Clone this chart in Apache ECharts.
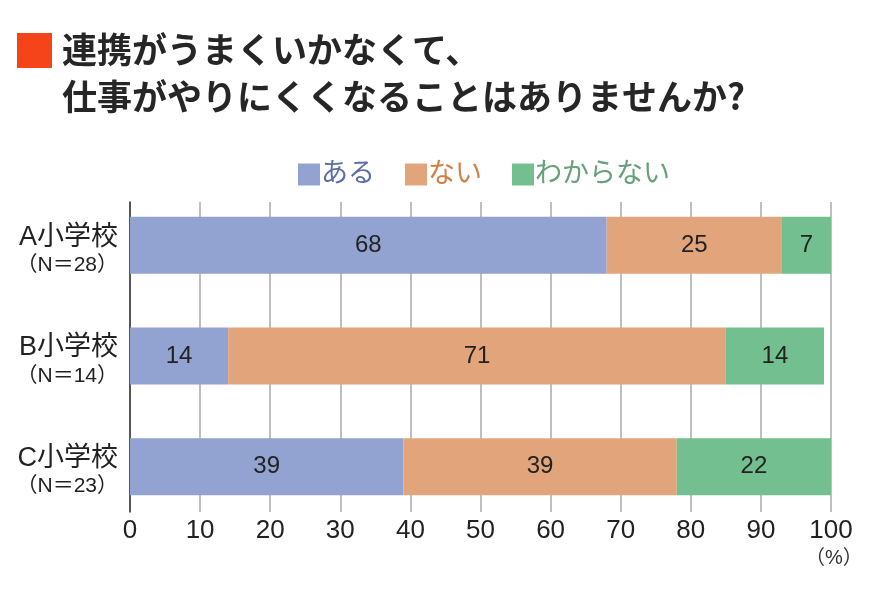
<!DOCTYPE html>
<html><head><meta charset="utf-8">
<script src="https://cdn.jsdelivr.net/npm/echarts@6/dist/echarts.min.js"></script>
<style>html,body{margin:0;padding:0;background:#fff}#c{width:870px;height:595px}</style>
</head><body><div id="c"></div>
<script>
const categories = ['A小学校', 'B小学校', 'C小学校'];
const sampleSizes = ['（N＝28）', '（N＝14）', '（N＝23）'];
const seriesNames = ['ある', 'ない', 'わからない'];
const aru = [68, 14, 39];
const nai = [25, 71, 39];
const wakaranai = [7, 14, 22];
const titleLines = ['連携がうまくいかなくて、', '仕事がやりにくくなることはありませんか?'];

const F = '"Liberation Sans", "Noto Sans CJK JP", sans-serif';
const colors = ['#93a3d1', '#e2a57b', '#73bf90'];
const legendText = ['#5b6ca8', '#d27f48', '#67a07b'];
const chart = echarts.init(document.getElementById('c'));

const mk = (name, data, i) => ({
  name, type: 'bar', stack: 's', data, xAxisIndex: 0, yAxisIndex: 0,
  barWidth: 57, itemStyle: { color: colors[i] },
  label: { show: true, position: 'inside', color: '#222', fontSize: 24, fontFamily: F },
  emphasis: { disabled: true }
});

chart.setOption({
  animation: false,
  graphic: [
    { type: 'rect', shape: { x: 17, y: 33, width: 35, height: 35 }, style: { fill: '#f5441a' } },
    { type: 'text', left: 62, top: 26, style: { text: titleLines.join('\n'), font: 'bold 35px "Noto Sans CJK JP", sans-serif', lineHeight: 47, fill: '#262626' } },
    { type: 'text', left: 805, top: 548, style: { text: '（%）', font: '20px "Liberation Sans", "Noto Sans CJK JP", sans-serif', fill: '#333' } }
  ],
  legend: {
    top: 156, left: 293, itemWidth: 22, itemHeight: 22, itemGap: 30,
    icon: 'rect',
    data: seriesNames.map((n, i) => ({ name: n, textStyle: { color: legendText[i] } })),
    textStyle: { fontSize: 27, fontFamily: F, padding: [0, 0, 0, -4] },
    selectedMode: false
  },
  grid: [
    { left: 130, right: 39, top: 190, bottom: 73 },
    { left: 130, right: 39, top: 202, bottom: 83 }
  ],
  xAxis: [
    { gridIndex: 0, type: 'value', min: 0, max: 100, show: false },
    { gridIndex: 1, type: 'value', min: 0, max: 100, interval: 10,
      axisLine: { show: false }, axisTick: { show: false },
      splitLine: { lineStyle: { color: '#aaaaaa', width: 1.5 } },
      axisLabel: { fontSize: 26, color: '#222', fontFamily: F, margin: 6 } }
  ],
  yAxis: [
    { gridIndex: 0, type: 'category', inverse: true, data: categories,
      axisLine: { show: false }, axisTick: { show: false },
      axisLabel: {
        margin: 12, align: 'right', padding: [10, 0, 0, 0],
        formatter: (v, i) => '{a|' + v + '}\n{b|' + sampleSizes[i] + '}',
        rich: {
          a: { fontSize: 27, color: '#222', fontFamily: F, lineHeight: 30, align: 'right' },
          b: { fontSize: 21, color: '#222', fontFamily: F, lineHeight: 26, align: 'right' }
        }
      } },
    { gridIndex: 1, type: 'category', data: categories,
      axisLine: { show: true, lineStyle: { color: '#333', width: 1.5 } },
      axisTick: { show: false }, axisLabel: { show: false } }
  ],
  series: [mk(seriesNames[0], aru, 0), mk(seriesNames[1], nai, 1), mk(seriesNames[2], wakaranai, 2)]
});
</script></body></html>
